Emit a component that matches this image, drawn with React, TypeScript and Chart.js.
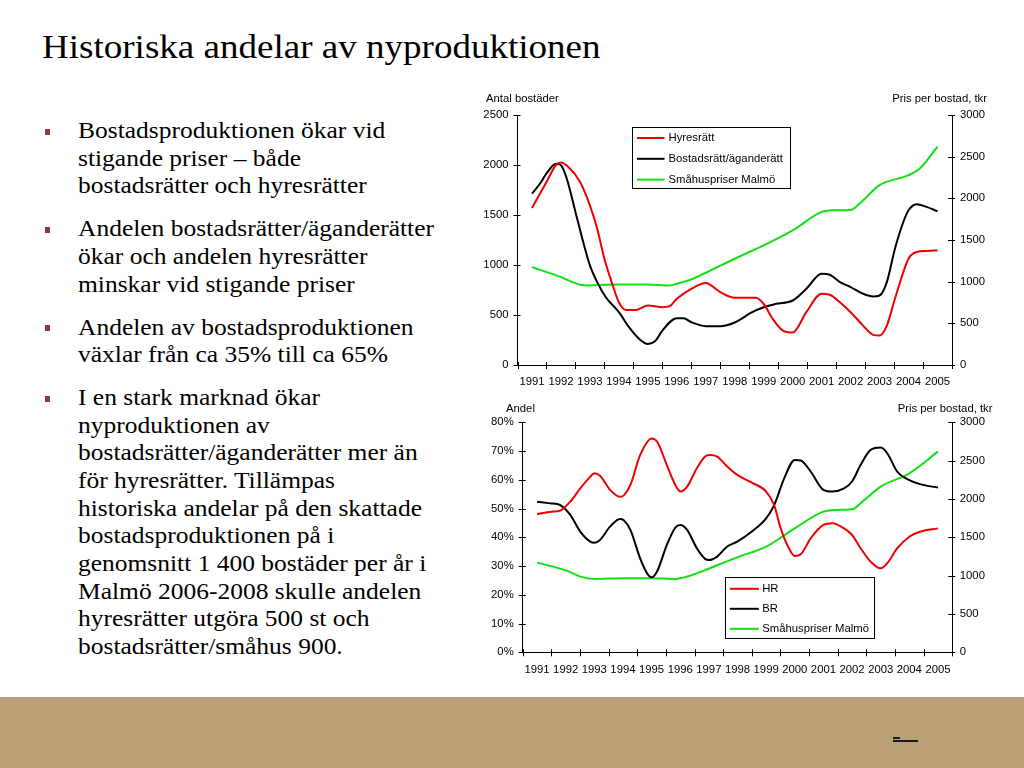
import React, { useEffect, useRef } from 'react';
import { Chart, registerables } from 'chart.js';

Chart.register(...registerables);

// ---------- data ----------
const years = [1991, 1992, 1993, 1994, 1995, 1996, 1997, 1998, 1999, 2000, 2001, 2002, 2003, 2004, 2005];

// Top chart: Antal bostäder (left) and Pris per bostad, tkr (right)
const hyrX = [1991, 1991.5, 1991.83, 1992, 1992.25, 1992.66, 1993, 1993.25, 1993.5, 1993.75, 1994, 1994.25, 1994.6, 1995, 1995.5, 1995.75, 1996, 1996.5, 1997, 1997.5, 1998, 1998.73, 1999, 1999.31, 1999.66, 2000, 2000.47, 2001, 2001.28, 2001.63, 2002, 2002.43, 2002.78, 2003, 2003.25, 2003.53, 2004, 2004.28, 2004.62, 2005];
const hyrY = [1571, 1831, 2000, 2025, 1982, 1831, 1597, 1364, 1063, 829, 628, 551, 551, 595, 578, 588, 662, 762, 819, 729, 672, 672, 610, 461, 344, 325, 528, 712, 702, 628, 528, 394, 301, 294, 394, 662, 1063, 1130, 1140, 1146];

const braX = [1991, 1991.28, 1991.5, 1991.83, 1992, 1992.2, 1992.5, 1992.8, 1993, 1993.25, 1993.55, 1994, 1994.35, 1994.7, 1995, 1995.27, 1995.5, 1996, 1996.23, 1996.5, 1997, 1997.5, 1998, 1998.6, 1999, 1999.43, 2000, 2000.47, 2001, 2001.28, 2001.63, 2002, 2002.43, 2002.78, 2003, 2003.25, 2003.53, 2003.82, 2004, 2004.28, 2004.62, 2005];
const braY = [1714, 1815, 1915, 2012, 1998, 1865, 1531, 1196, 996, 829, 678, 528, 378, 261, 211, 244, 344, 468, 468, 428, 388, 388, 425, 528, 578, 612, 645, 762, 912, 902, 829, 779, 712, 685, 695, 829, 1163, 1430, 1547, 1607, 1581, 1537];

const smaTopX = [1991, 1992, 1992.66, 1993, 1993.5, 1994, 1995, 1995.75, 1996, 1996.5, 1997, 1998, 1998.5, 1999, 2000, 2001, 2001.39, 2002, 2002.31, 2003, 2004, 2004.39, 2005];
const smaTopY = [1175, 1055, 963, 955, 963, 967, 967, 955, 975, 1027, 1107, 1275, 1356, 1436, 1616, 1837, 1857, 1861, 1937, 2158, 2278, 2358, 2619];

// Bottom chart: Andel (left, %) and Pris per bostad, tkr (right)
const hrX = [1991, 1991.5, 1991.81, 1992.16, 1992.51, 1992.86, 1993, 1993.2, 1993.55, 1993.9, 1994.02, 1994.26, 1994.6, 1995.01, 1995.19, 1995.53, 1995.83, 1996.01, 1996.24, 1996.58, 1996.87, 1997.03, 1997.29, 1997.64, 1997.99, 1998.5, 1999, 1999.28, 1999.51, 1999.74, 2000, 2000.21, 2000.56, 2001, 2001.31, 2001.72, 2002, 2002.3, 2002.65, 2003, 2003.23, 2003.58, 2004, 2004.4, 2005];
const hrY = [48.1, 48.9, 49.3, 52.4, 57.0, 61.1, 62.3, 61.4, 56.5, 54.1, 54.5, 58.2, 68.6, 74.4, 73.3, 65.2, 58.2, 55.9, 57.6, 64.0, 68.1, 68.6, 68.1, 64.6, 61.7, 59.0, 55.9, 51.2, 43.1, 37.3, 33.5, 34.1, 39.7, 44.3, 44.9, 43.1, 40.8, 36.2, 31.5, 29.2, 31.0, 36.2, 40.2, 42.0, 43.1];

const brX = [1991, 1991.47, 1991.81, 1992.16, 1992.51, 1992.86, 1993, 1993.2, 1993.55, 1993.9, 1994.02, 1994.26, 1994.6, 1994.88, 1995, 1995.19, 1995.53, 1995.83, 1996, 1996.24, 1996.58, 1996.87, 1997, 1997.29, 1997.64, 1997.99, 1998.5, 1999, 1999.28, 1999.63, 2000, 2000.21, 2000.56, 2001, 2001.31, 2001.72, 2002, 2002.3, 2002.65, 2003, 2003.23, 2003.58, 2004, 2004.4, 2005];
const brY = [52.4, 51.8, 51.2, 47.8, 42.0, 38.5, 38.1, 39.1, 43.7, 46.4, 46.0, 42.6, 32.7, 26.9, 26.1, 28.1, 37.3, 43.4, 44.3, 42.6, 36.2, 32.5, 32.1, 33.3, 36.8, 38.5, 42.0, 46.6, 51.2, 60.5, 66.9, 66.7, 62.8, 56.5, 55.9, 57.0, 59.4, 65.2, 70.4, 71.2, 69.2, 62.8, 59.9, 58.4, 57.3];

const smaBotX = [1991, 1992.03, 1992.51, 1993, 1994.02, 1995.01, 1995.83, 1996, 1996.58, 1997.03, 1997.99, 1999, 2000, 2001, 2001.49, 2002, 2002.3, 2003, 2004, 2005];
const smaBotY = [1170, 1065, 987, 957, 965, 965, 957, 965, 1030, 1096, 1239, 1378, 1617, 1835, 1857, 1865, 1944, 2161, 2335, 2617];

// tick values
const countTicks = [0, 500, 1000, 1500, 2000, 2500];
const priceTicks = [0, 500, 1000, 1500, 2000, 2500, 3000];
const shareTicks = [0, 10, 20, 30, 40, 50, 60, 70, 80];

// slide text
const title = 'Historiska andelar av nyproduktionen';
const bullets: string[][] = [
  ['Bostadsproduktionen ökar vid', 'stigande priser – både', 'bostadsrätter och hyresrätter'],
  ['Andelen bostadsrätter/äganderätter', 'ökar och andelen hyresrätter', 'minskar vid stigande priser'],
  ['Andelen av bostadsproduktionen', 'växlar från ca 35% till ca 65%'],
  [
    'I en stark marknad ökar',
    'nyproduktionen av',
    'bostadsrätter/äganderätter mer än',
    'för hyresrätter. Tillämpas',
    'historiska andelar på den skattade',
    'bostadsproduktionen på i',
    'genomsnitt 1 400 bostäder per år i',
    'Malmö 2006-2008 skulle andelen',
    'hyresrätter utgöra 500 st och',
    'bostadsrätter/småhus 900.',
  ],
];

// ---------- styling ----------
const RED = '#f00000';
const BLACK = '#000000';
const GREEN = '#11e011';
const SANS = '"Liberation Sans", Arial, Helvetica, sans-serif';
const FONT_SIZE = 11.3;

const pts = (xs: number[], ys: number[]) => xs.map((x, i) => ({ x, y: ys[i] }));
const boundaries = years.map((y) => y - 0.5).concat([years[years.length - 1] + 0.5]);

const slidePlugin = {
  id: 'slideDeco',
  afterDraw(chart: any, _args: any, opts: any) {
    const ctx = chart.ctx as CanvasRenderingContext2D;
    const a = chart.chartArea;
    const line = (x0: number, y0: number, x1: number, y1: number) => {
      ctx.beginPath();
      ctx.moveTo(x0, y0);
      ctx.lineTo(x1, y1);
      ctx.stroke();
    };
    ctx.save();
    ctx.strokeStyle = '#000';
    ctx.lineWidth = 1;
    const L = 3;
    const xs = chart.scales.x;
    boundaries.forEach((v) => {
      const px = Math.round(xs.getPixelForValue(v)) + 0.5;
      line(px, a.bottom - L, px, a.bottom + L + 1);
    });
    ['y', 'y2'].forEach((id) => {
      const s = chart.scales[id];
      const ax = s.position === 'left' ? a.left : a.right;
      s.ticks.forEach((t: any) => {
        const py = Math.round(s.getPixelForValue(t.value)) + 0.5;
        line(ax - L - 1, py, ax + L, py);
      });
    });
    ctx.font = `${FONT_SIZE}px ${SANS}`;
    ctx.fillStyle = '#000';
    ctx.textBaseline = 'middle';
    ctx.textAlign = 'left';
    ctx.fillText(opts.leftTitle, opts.leftTitleX, opts.titleY);
    ctx.textAlign = 'right';
    ctx.fillText(opts.rightTitle, opts.rightTitleX, opts.titleY);

    const lg = opts.legend;
    const bx = Math.round(a.left + lg.dx) + 0.5;
    const by = Math.round(a.top + lg.dy) + 0.5;
    ctx.fillStyle = '#fff';
    ctx.fillRect(bx, by, lg.w, lg.h);
    ctx.strokeStyle = '#000';
    ctx.lineWidth = 1;
    ctx.strokeRect(bx, by, lg.w, lg.h);
    chart.data.datasets.forEach((ds: any, i: number) => {
      const cy = by + lg.firstRow + i * lg.rowGap;
      ctx.strokeStyle = ds.borderColor;
      ctx.lineWidth = 2;
      line(bx + lg.lineX0, cy, bx + lg.lineX1, cy);
      ctx.fillStyle = '#000';
      ctx.textAlign = 'left';
      ctx.fillText(ds.label, bx + lg.textX, cy);
    });
    ctx.restore();
  },
};

function xScale(height: number, padding: number) {
  return {
    type: 'linear',
    position: 'bottom',
    min: years[0] - 0.5,
    max: years[years.length - 1] + 0.5,
    afterBuildTicks: (s: any) => {
      s.ticks = years.map((v) => ({ value: v }));
    },
    afterFit: (s: any) => {
      s.height = height;
    },
    grid: { display: false, drawTicks: false, tickLength: 0 },
    border: { display: true, color: '#000', width: 1 },
    ticks: {
      padding,
      color: '#000',
      font: { family: SANS, size: FONT_SIZE },
      maxRotation: 0,
      minRotation: 0,
      autoSkip: false,
      callback: (v: number) => String(v),
    },
  };
}

function yScale(position: string, min: number, max: number, tickVals: number[], fmt: (v: number) => string, width: number, padding: number) {
  return {
    type: 'linear',
    position,
    min,
    max,
    afterBuildTicks: (s: any) => {
      s.ticks = tickVals.map((v) => ({ value: v }));
    },
    afterFit: (s: any) => {
      s.width = width;
    },
    grid: { display: false, drawTicks: false, tickLength: 0 },
    border: { display: true, color: '#000', width: 1 },
    ticks: { padding, color: '#000', font: { family: SANS, size: FONT_SIZE }, callback: fmt },
  };
}

const lineStyle = { borderWidth: 2, pointRadius: 0, cubicInterpolationMode: 'monotone', fill: false };

function makeTopConfig(): any {
  return {
    type: 'line',
    data: {
      datasets: [
        { label: 'Hyresrätt', data: pts(hyrX, hyrY), borderColor: RED, yAxisID: 'y', ...lineStyle },
        { label: 'Bostadsrätt/äganderätt', data: pts(braX, braY), borderColor: BLACK, yAxisID: 'y', ...lineStyle },
        { label: 'Småhuspriser Malmö', data: pts(smaTopX, smaTopY), borderColor: GREEN, yAxisID: 'y2', ...lineStyle },
      ],
    },
    options: {
      responsive: false,
      animation: false,
      events: [],
      layout: { padding: { top: 27, left: 0, right: 0, bottom: 0 } },
      plugins: {
        legend: { display: false },
        tooltip: { enabled: false },
        slideDeco: {
          leftTitle: 'Antal bostäder',
          rightTitle: 'Pris per bostad, tkr',
          leftTitleX: 26,
          rightTitleX: 527,
          titleY: 11,
          legend: { dx: 114.5, dy: 12, w: 158, h: 61, firstRow: 10.5, rowGap: 20.8, lineX0: 4.5, lineX1: 32, textX: 36 },
        },
      },
      scales: {
        x: xScale(28, 10),
        y: yScale('left', 0, 2500, countTicks, (v) => String(v), 57.5, 9),
        y2: yScale('right', 0, 3000, priceTicks, (v) => String(v), 58, 8),
      },
    },
    plugins: [slidePlugin],
  };
}

function makeBottomConfig(): any {
  return {
    type: 'line',
    data: {
      datasets: [
        { label: 'HR', data: pts(hrX, hrY), borderColor: RED, yAxisID: 'y', ...lineStyle },
        { label: 'BR', data: pts(brX, brY), borderColor: BLACK, yAxisID: 'y', ...lineStyle },
        { label: 'Småhuspriser Malmö', data: pts(smaBotX, smaBotY), borderColor: GREEN, yAxisID: 'y2', ...lineStyle },
      ],
    },
    options: {
      responsive: false,
      animation: false,
      events: [],
      layout: { padding: { top: 22.3, left: 0, right: 0, bottom: 0 } },
      plugins: {
        legend: { display: false },
        tooltip: { enabled: false },
        slideDeco: {
          leftTitle: 'Andel',
          rightTitle: 'Pris per bostad, tkr',
          leftTitleX: 46,
          rightTitleX: 532.5,
          titleY: 8.5,
          legend: { dx: 202.3, dy: 154.7, w: 149, h: 61, firstRow: 11.3, rowGap: 20, lineX0: 4.3, lineX1: 33.3, textX: 36.7 },
        },
      },
      scales: {
        x: xScale(37.7, 11),
        y: yScale('left', 0, 80, shareTicks, (v) => `${v}%`, 62.7, 9),
        y2: yScale('right', 0, 3000, priceTicks, (v) => String(v), 57.7, 7.5),
      },
    },
    plugins: [slidePlugin],
  };
}

function ChartBox({ left, top, width, height, makeConfig }: { left: number; top: number; width: number; height: number; makeConfig: () => any }) {
  const ref = useRef<HTMLCanvasElement>(null);
  useEffect(() => {
    if (!ref.current) return;
    const chart = new Chart(ref.current, makeConfig());
    return () => chart.destroy();
  }, [makeConfig]);
  return (
    <div style={{ position: 'absolute', left, top, width, height }}>
      <canvas ref={ref} width={width} height={height} style={{ display: 'block', width, height }} />
    </div>
  );
}

// text layout
const BODY_SIZE = 23.7;
const LINE_H = 27.65;
const PARA_STEP = 42.9;
const FIRST_BASELINE = 139;
const ASC = 0.891;
const DESC = 0.216;

function Bullets() {
  const items: React.ReactNode[] = [];
  let baseline = FIRST_BASELINE;
  const baseOffset = (LINE_H - BODY_SIZE * (ASC + DESC)) / 2 + BODY_SIZE * ASC;
  bullets.forEach((lines, pi) => {
    const top = baseline - baseOffset;
    items.push(
      <div key={'b' + pi} style={{ position: 'absolute', left: 45, top: baseline - 10, width: 5, height: 6, background: '#8e3a3a' }} />
    );
    items.push(
      <div
        key={'p' + pi}
        style={{
          position: 'absolute',
          left: 78,
          top,
          fontSize: BODY_SIZE,
          lineHeight: `${LINE_H}px`,
          whiteSpace: 'nowrap',
          transform: 'scaleX(1.076)',
          transformOrigin: '0 0',
        }}
      >
        {lines.map((l, li) => (
          <div key={li}>{l}</div>
        ))}
      </div>
    );
    baseline += (lines.length - 1) * LINE_H + PARA_STEP;
  });
  return <>{items}</>;
}

export default function App() {
  return (
    <div
      style={{
        position: 'absolute',
        left: 0,
        top: 0,
        width: 1024,
        height: 768,
        background: '#fff',
        overflow: 'hidden',
        fontFamily: '"Liberation Serif", "Times New Roman", serif',
        color: '#000',
      }}
    >
      <div
        style={{
          position: 'absolute',
          left: 42,
          top: 26.1,
          fontSize: 34.3,
          lineHeight: '40px',
          whiteSpace: 'nowrap',
          transform: 'scaleX(1.08)',
          transformOrigin: '0 0',
        }}
      >
        {title}
      </div>
      <Bullets />
      <ChartBox left={460} top={88} width={550} height={305} makeConfig={makeTopConfig} />
      <ChartBox left={460} top={400} width={550} height={290} makeConfig={makeBottomConfig} />
      <div style={{ position: 'absolute', left: 0, top: 697, width: 1024, height: 71, background: '#b9a077' }} />
      <div style={{ position: 'absolute', left: 893, top: 737, width: 7, height: 2, background: '#1a1a1a' }} />
      <div style={{ position: 'absolute', left: 893, top: 740, width: 25, height: 2, background: '#1a1a1a' }} />
    </div>
  );
}
